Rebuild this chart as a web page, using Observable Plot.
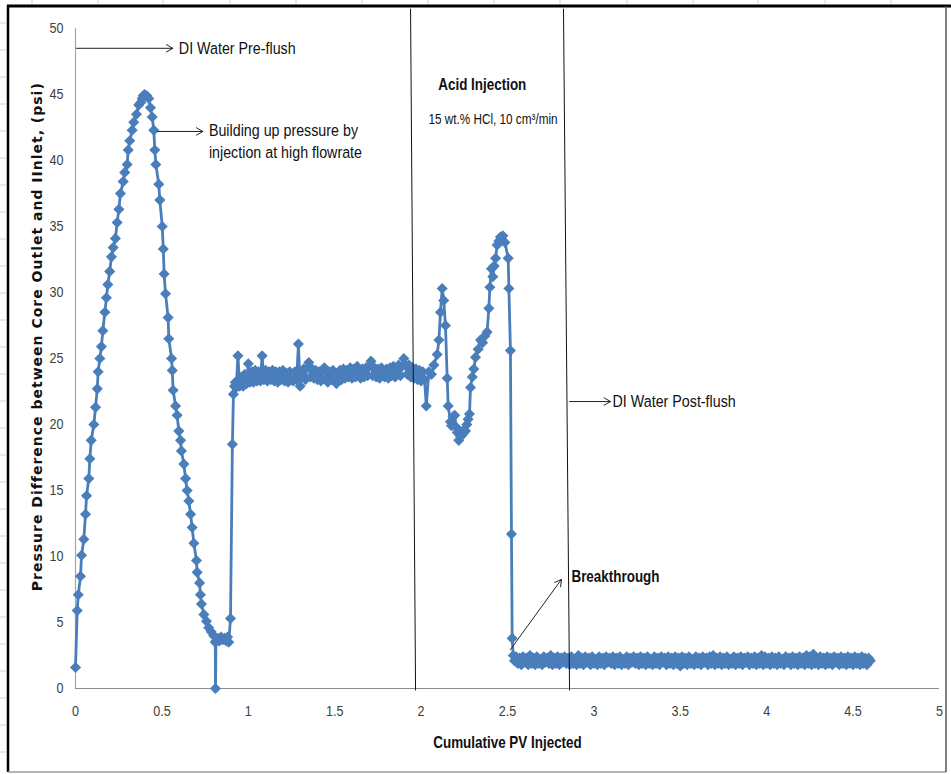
<!DOCTYPE html>
<html><head><meta charset="utf-8">
<script src="https://cdn.jsdelivr.net/npm/d3@7"></script>
<script src="https://cdn.jsdelivr.net/npm/@observablehq/plot@0.6"></script>
<style>
html,body{margin:0;padding:0;background:#fff;}
#chart{width:951px;height:774px;}
</style></head><body><div id="chart"></div>
<script>
// ---- data ----
const riseX = [0,0.010,0.016,0.029,0.035,0.048,0.058,0.064,0.077,0.083,0.091,0.106,0.116,0.126,0.131,0.141,0.150,0.158,0.170,0.179,0.187,0.198,0.208,0.218,0.231,0.241,0.251,0.260,0.276,0.285,0.299,0.305,0.314,0.328,0.337,0.353,0.366,0.378,0.386,0.392,0.399];
const riseY = [1.6,5.9,7.1,8.5,10.1,11.3,13.2,14.6,15.9,17.4,18.8,20.0,21.3,22.7,24.0,25.0,25.9,27.1,28.5,29.6,30.6,31.6,32.7,33.4,34.1,35.3,36.3,37.5,38.4,39.1,39.7,40.8,41.5,42.3,42.9,43.5,44.2,44.4,44.7,44.9,45.0];

const fallX = [0.405,0.413,0.424,0.434,0.444,0.453,0.459,0.465,0.482,0.488,0.502,0.508,0.513,0.521,0.536,0.540,0.556,0.560,0.565,0.579,0.588,0.598,0.608,0.613,0.627,0.637,0.646,0.656,0.666,0.675,0.685,0.700,0.704,0.718,0.723,0.729,0.743,0.758,0.771,0.785,0.800,0.809,0.810,0.813,0.822,0.832,0.842,0.852,0.862,0.872,0.880,0.887,0.897,0.908,0.914,0.920,0.925];
const fallY = [44.9,44.9,44.7,44.0,43.3,42.3,40.8,39.7,38.2,37.0,35.0,33.3,31.4,29.9,28.1,26.5,25.0,24.1,22.6,21.4,20.7,19.5,18.8,18.0,17.0,15.9,15.0,14.2,13.2,12.2,11.0,9.7,8.8,8.0,7.1,6.4,5.6,5.1,4.6,4.3,4.0,3.5,0,3.6,3.8,3.6,3.9,3.7,3.8,3.6,3.9,3.5,5.3,18.5,22.3,22.9,23.2];

const plateauX = [0.93,0.94,0.95,0.96,0.97,0.98,0.99,1.00,1.01,1.02,1.03,1.04,1.05,1.06,1.07,1.08,1.09,1.10,1.11,1.12,1.13,1.14,1.15,1.16,1.17,1.18,1.19,1.20,1.21,1.22,1.23,1.24,1.25,1.26,1.27,1.28,1.29,1.30,1.31,1.32,1.33,1.34,1.35,1.36,1.37,1.38,1.39,1.40,1.41,1.42,1.43,1.44,1.45,1.46,1.47,1.48,1.49,1.50,1.51,1.52,1.53,1.54,1.55,1.56,1.57,1.58,1.59,1.60,1.61,1.62,1.63,1.64,1.65,1.66,1.67,1.68,1.69,1.70,1.71,1.72,1.73,1.74,1.75,1.76,1.77,1.78,1.79,1.80,1.81,1.82,1.83,1.84,1.85,1.86,1.87,1.88,1.89,1.90,1.91,1.92,1.93,1.94,1.95,1.96,1.97,1.98,1.99,2.00,2.01,2.02];
const plateauY = [22.8,25.2,22.9,23.6,22.9,23.8,23.1,24.6,23.2,24.0,23.2,24.1,23.3,24.0,23.3,25.2,23.4,24.1,23.3,24.0,23.4,24.1,23.3,24.0,23.2,24.0,23.4,24.1,23.3,23.9,23.2,24.0,23.4,23.3,24.0,23.4,26.1,22.9,23.9,24.2,23.4,24.3,24.7,23.6,24.2,23.5,24.1,23.4,24.0,23.3,24.1,24.3,23.5,23.2,24.0,23.4,24.1,23.3,23.1,23.9,24.1,23.4,24.2,23.5,24.1,23.6,24.3,23.5,24.2,23.6,24.4,23.7,23.5,24.2,23.6,24.3,23.7,24.4,24.8,23.7,24.3,23.6,24.2,23.5,24.3,23.7,23.6,24.2,23.5,24.3,23.7,24.4,23.6,24.2,24.5,23.7,24.4,25.0,24.5,23.8,24.5,23.6,24.3,23.5,24.2,23.4,24.1,23.3,24.0,23.4];

const acidX = [2.030,2.045,2.060,2.074,2.093,2.103,2.112,2.122,2.131,2.141,2.151,2.157,2.170,2.176,2.185,2.195,2.203,2.209,2.218,2.228,2.238,2.248,2.257,2.265,2.272,2.280,2.286,2.296,2.305,2.315,2.330,2.344,2.356,2.369,2.382,2.392,2.398,2.407,2.415,2.423,2.431,2.440,2.450,2.459,2.466,2.473,2.485,2.504,2.508,2.517,2.523,2.527,2.533,2.540];
const acidY = [21.4,24.0,23.8,24.5,25.3,26.4,28.5,30.3,29.4,27.5,23.5,21.4,20.2,19.9,20.6,20.7,19.8,19.4,18.8,19.1,19.2,19.6,19.5,20.0,20.4,20.8,22.8,23.6,24.2,25.1,25.7,26.4,26.2,26.7,27.0,28.8,30.4,31.8,31.2,32.0,32.6,33.6,33.9,34.2,34.0,34.3,33.8,32.6,30.3,25.6,11.7,3.8,2.5,2.1];

const postX = [2.55,2.56,2.57,2.58,2.59,2.60,2.61,2.62,2.63,2.64,2.65,2.66,2.67,2.68,2.69,2.70,2.71,2.72,2.73,2.74,2.75,2.76,2.77,2.78,2.79,2.80,2.81,2.82,2.83,2.84,2.85,2.86,2.87,2.88,2.89,2.90,2.91,2.92,2.93,2.94,2.95,2.96,2.97,2.98,2.99,3.00,3.01,3.02,3.03,3.04,3.05,3.06,3.07,3.08,3.09,3.10,3.11,3.12,3.13,3.14,3.15,3.16,3.17,3.18,3.19,3.20,3.21,3.22,3.23,3.24,3.25,3.26,3.27,3.28,3.29,3.30,3.31,3.32,3.33,3.34,3.35,3.36,3.37,3.38,3.39,3.40,3.41,3.42,3.43,3.44,3.45,3.46,3.47,3.48,3.49,3.50,3.51,3.52,3.53,3.54,3.55,3.56,3.57,3.58,3.59,3.60,3.61,3.62,3.63,3.64,3.65,3.66,3.67,3.68,3.69,3.70,3.71,3.72,3.73,3.74,3.75,3.76,3.77,3.78,3.79,3.80,3.81,3.82,3.83,3.84,3.85,3.86,3.87,3.88,3.89,3.90,3.91,3.92,3.93,3.94,3.95,3.96,3.97,3.98,3.99,4.00,4.01,4.02,4.03,4.04,4.05,4.06,4.07,4.08,4.09,4.10,4.11,4.12,4.13,4.14,4.15,4.16,4.17,4.18,4.19,4.20,4.21,4.22,4.23,4.24,4.25,4.26,4.27,4.28,4.29,4.30,4.31,4.32,4.33,4.34,4.35,4.36,4.37,4.38,4.39,4.40,4.41,4.42,4.43,4.44,4.45,4.46,4.47,4.48,4.49,4.50,4.51,4.52,4.53,4.54,4.55,4.56,4.57,4.58,4.59,4.60];
const postY = [2.4,1.9,2.3,1.8,2.4,2.0,2.3,1.8,2.5,1.9,
  2.3,1.8,2.4,1.9,2.2,1.8,2.4,2.0,2.3,1.9,
  2.5,1.8,2.3,1.9,2.4,1.8,2.3,2.0,2.4,1.9,
  2.3,1.8,2.4,1.9,2.2,1.8,2.5,1.9,2.3,1.8,
  2.4,2.0,2.3,1.8,2.4,1.9,2.2,1.8,2.4,1.9,
  2.3,1.8,2.4,2.0,2.3,1.9,2.4,1.8,2.3,1.9,
  2.4,1.8,2.2,1.9,2.4,1.8,2.3,2.0,2.4,1.9,
  2.3,1.8,2.4,1.9,2.3,1.8,2.4,1.9,2.2,1.8,
  2.4,1.9,2.3,1.8,2.4,2.0,2.3,1.8,2.4,1.9,
  2.3,1.8,2.4,1.9,2.3,1.7,2.4,1.9,2.3,1.8,
  2.4,1.9,2.2,1.8,2.4,1.9,2.3,1.8,2.4,2.0,
  2.3,1.8,2.4,1.9,2.5,1.8,2.3,1.9,2.4,1.8,
  2.3,1.9,2.4,1.8,2.2,1.9,2.4,1.8,2.3,1.9,
  2.4,1.8,2.3,2.0,2.4,1.8,2.3,1.9,2.4,1.8,
  2.3,1.9,2.5,1.8,2.4,1.9,2.3,1.8,2.4,1.9,
  2.3,1.8,2.4,1.9,2.2,1.8,2.4,2.0,2.3,1.8,
  2.4,1.9,2.3,1.8,2.4,1.9,2.3,1.8,2.5,1.9,
  2.4,1.8,2.6,1.9,2.3,1.8,2.4,1.9,2.3,1.8,
  2.4,1.9,2.3,1.8,2.4,2.0,2.3,1.8,2.4,1.9,
  2.3,1.8,2.4,1.9,2.3,1.8,2.4,1.9,2.3,1.8,
  2.4,1.9,2.3,1.8,2.3,2.1];

const xTicks = [0,0.5,1,1.5,2,2.5,3,3.5,4,4.5,5];
const yTicks = [0,5,10,15,20,25,30,35,40,45,50];

// phase separator lines (data units)
const phaseX1 = [1.939, 2.824];
const phaseX2 = [1.968, 2.859];
const phaseYTop = [51.5, 51.5];
const phaseYBottom = [-0.15, -0.15];

// annotation arrows
const arrowX1 = [0.006, 0.473, 2.859, 2.517];
const arrowY1 = [48.5, 42.2, 21.74, 2.95];
const arrowX2 = [0.563, 0.737, 3.096, 2.812];
const arrowY2 = [48.5, 42.2, 21.74, 8.26];

// annotation texts
const noteText = ["DI Water Pre-flush","Building up pressure by","injection at high flowrate","Acid Injection","15 wt.% HCl, 10 cm\u00B3/min","DI Water Post-flush","Breakthrough"];
const noteX = [0.598, 0.772, 0.772, 2.354, 2.416, 3.108, 2.870];
const noteY = [48.45, 42.3, 40.6, 45.76, 43.07, 21.74, 8.48];
const noteAnchor = ["start","start","start","middle","middle","start","start"];
const noteWeight = ["normal","normal","normal","bold","normal","normal","bold"];
const noteSize = [17, 17, 17, 16, 14, 17, 16];

const xTitle = "Cumulative PV Injected";
const yTitle = "Pressure Difference between Core Outlet and IInlet, (psi)";

// ---- build ----
const pv = [...riseX, ...fallX, ...plateauX, ...acidX, ...postX];
const dp = [...riseY, ...fallY, ...plateauY, ...acidY, ...postY];
const series = pv.map((x, i) => ({x, y: dp[i]}));
const phases = phaseX1.map((_, i) => ({x1: phaseX1[i], x2: phaseX2[i], y1: phaseYTop[i], y2: phaseYBottom[i]}));
const arrows = arrowX1.map((_, i) => ({x1: arrowX1[i], y1: arrowY1[i], x2: arrowX2[i], y2: arrowY2[i]}));
const notes = noteText.map((t, i) => ({t, x: noteX[i], y: noteY[i], a: noteAnchor[i], w: noteWeight[i], s: noteSize[i]}));

const sans = '"Liberation Sans", Arial, sans-serif';
const blue = "#4a7ebb";

const noteMarks = ["start","middle"].flatMap(anchor =>
  [[17,"normal"],[16,"bold"],[16,"normal"],[14,"normal"]].map(([s,w]) =>
    Plot.text(notes.filter(d => d.a === anchor && d.s === s && d.w === w), {
      x: "x", y: "y", text: "t", textAnchor: anchor, fontSize: s, fontWeight: w,
      fontFamily: sans, fill: "#111", clip: false, className: "narrow"
    })
  )
);

const chart = Plot.plot({
  width: 951, height: 774,
  marginLeft: 75, marginRight: 12, marginTop: 28, marginBottom: 86,
  style: {fontFamily: sans, fontSize: "15px", background: "white", color: "#404040", overflow: "visible"},
  x: {domain: [0, 5]},
  y: {domain: [0, 50]},
  marks: [
    Plot.ruleY([0], {stroke: "#8c8c8c", strokeWidth: 1.2}),
    Plot.ruleX([0], {stroke: "#a6a6a6", strokeWidth: 1.2}),
    Plot.axisX({ticks: xTicks, tickSize: 0, tickPadding: 17, tickFormat: d => String(d), label: null, fontSize: 15, fill: "#404040", className: "narrow"}),
    Plot.axisY({ticks: yTicks, tickSize: 0, tickPadding: 12, tickFormat: d => String(d), label: null, fontSize: 15, fill: "#404040", className: "narrow"}),
    Plot.line(series, {x: "x", y: "y", stroke: blue, strokeWidth: 2.8, clip: false}),
    Plot.dot(series, {x: "x", y: "y", symbol: "diamond2", r: 5, fill: blue, stroke: "none", clip: false}),
    Plot.link(phases, {x1: "x1", y1: "y1", x2: "x2", y2: "y2", stroke: "#111", strokeWidth: 1, clip: false}),
    Plot.arrow(arrows, {x1: "x1", y1: "y1", x2: "x2", y2: "y2", stroke: "#222", strokeWidth: 1, headLength: 11, clip: false}),
    ...noteMarks,
    Plot.text([xTitle], {x: 2.5, y: -4.09, text: d => d, fontSize: 16, fontWeight: "bold", fontFamily: sans, fill: "#111", clip: false, className: "narrow"}),
    Plot.text([yTitle], {x: -0.22, y: 26.65, text: d => d, rotate: -90, fontSize: 14, fontWeight: "bold", fontFamily: '"DejaVu Sans", sans-serif', fill: "#111", clip: false, className: "ytitle"})
  ]
});

const svg = d3.select(chart);
svg.selectAll(".ytitle text").attr("letter-spacing", "1px");
// condense text horizontally around its anchor (the original uses a narrow face)
svg.selectAll(".narrow text").each(function() {
  const el = d3.select(this);
  const t = el.attr("transform");
  if (t && t.includes("translate")) el.attr("transform", t + " scale(0.84,1)");
});
svg.selectAll("g.narrow").each(function() {
  d3.select(this).selectAll("text").each(function() {
    const el = d3.select(this);
    if (!el.attr("transform")) {
      const x = +el.attr("x") || 0, y = +el.attr("y") || 0;
      el.attr("transform", `translate(${x},${y}) scale(0.84,1)`).attr("x", null).attr("y", null);
    }
  });
});
// spreadsheet grid visible around the chart area
const grid = svg.insert("g", ":first-child").attr("stroke", "#d4d4d4").attr("stroke-width", 1);
for (const gx of [32,98,163,230,296,362,428,494,560,627,693,758,825,891]) grid.append("line").attr("x1", gx).attr("x2", gx).attr("y1", 0).attr("y2", 5);
for (let gy = 23; gy < 774; gy += 27) grid.append("line").attr("x1", 0).attr("x2", 6).attr("y1", gy).attr("y2", gy);
// outer chart frame
const frame = svg.append("g").attr("fill", "none");
frame.append("line").attr("x1", 7).attr("x2", 951).attr("y1", 6).attr("y2", 6).attr("stroke", "#000").attr("stroke-width", 3);
frame.append("line").attr("x1", 8).attr("x2", 8).attr("y1", 5).attr("y2", 772).attr("stroke", "#000").attr("stroke-width", 2.5);
frame.append("line").attr("x1", 8).attr("x2", 946).attr("y1", 772).attr("y2", 772).attr("stroke", "#9a9a9a").attr("stroke-width", 1.5);
frame.append("line").attr("x1", 946).attr("x2", 946).attr("y1", 6).attr("y2", 772).attr("stroke", "#555").attr("stroke-width", 1.5);

document.getElementById("chart").appendChild(chart);
</script>
</body></html>
